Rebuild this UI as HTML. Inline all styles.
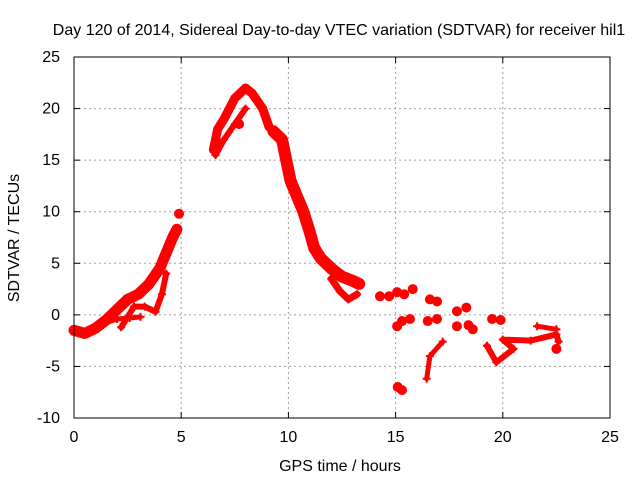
<!DOCTYPE html>
<html><head><meta charset="utf-8"><style>
body{margin:0;background:#fff;font-family:"Liberation Sans",sans-serif}
svg text{font-family:"Liberation Sans",sans-serif;font-size:16px;fill:#000}
</style></head><body>
<svg id="chart" width="640" height="480" xmlns="http://www.w3.org/2000/svg">
<rect width="640" height="480" fill="#fff"/>
<text x="339" y="35" text-anchor="middle">Day 120 of 2014, Sidereal Day-to-day VTEC variation (SDTVAR) for receiver hil1</text>
<g id="grid"></g>
<g id="ticks"></g>
<g id="marks"></g>
<rect x="74" y="57" width="536" height="361" fill="none" stroke="#000" stroke-width="1"/>
<text x="340" y="471" text-anchor="middle">GPS time / hours</text>
<text transform="translate(19,238) rotate(-90)" text-anchor="middle">SDTVAR / TECUs</text>
</svg>
<script>
const xTicks=[0,5,10,15,20,25];
const yTicks=[-10,-5,0,5,10,15,20,25];
const trackA=[[0,-1.5],[0.5,-1.8],[1,-1.3],[1.5,-0.5],[2,0.5],[2.5,1.5],[3,2],[3.5,3],[4,4.5],[4.3,6],[4.6,7.5],[4.8,8.3]];
const trackB=[[2.2,-1.2],[2.5,-0.2],[2.8,0.8],[3.3,0.8],[3.8,0.3],[4.1,2],[4.3,4]];
const trackB2=[[1.3,-0.9],[2,-0.4],[2.6,-0.3],[3.1,-0.2]];
const trackC=[[6.5,16],[6.7,18],[7,19],[7.5,21],[8,22],[8.3,21.5],[8.8,20],[9.1,18.2]];
const trackC2=[[6.6,15.5],[7,17],[7.5,18.5],[8,20]];
const trackD=[[9.3,17.8],[9.7,17],[9.9,15],[10.1,13],[10.4,11.5],[10.7,10],[11,8],[11.2,6.5],[11.5,5.5],[12,4.5],[12.5,3.7],[13,3.3],[13.3,3]];
const trackD2=[[12,3.5],[12.4,2.3],[12.8,1.5],[13.2,2]];
const trackE=[[19.26,-3],[19.7,-4.6],[20.5,-3.3],[20,-2.4],[21.3,-2.5],[22.5,-1.9],[22.6,-2.6]];
const trackE2=[[21.6,-1.1],[22.5,-1.4]];
const trackF=[[16.45,-6.2],[16.6,-4],[17.2,-2.6]];
const scatter=[[4.9,9.8],[7.7,18.5],[14.27,1.8],[14.7,1.8],[15.07,2.2],[15.8,2.5],[15.4,2],[16.93,1.3],[16.6,1.5],[17.86,0.35],[18.3,0.7],[15.07,-1.1],[15.3,-0.6],[15.67,-0.4],[16.93,-0.4],[16.5,-0.6],[17.86,-1.1],[18.6,-1.4],[18.4,-1],[19.5,-0.4],[19.9,-0.5],[15.1,-7],[15.3,-7.3],[22.5,-3.3]];
const tracks=[trackA,trackB,trackB2,trackC,trackC2,trackD,trackD2,trackE,trackE2,trackF];
const widths=[11,6,5,9,6,12,7,6,5,5];
const X0=74,X1=610,Y0=418,Y1=57;
function xs(t){return X0+(t-0)/25*(X1-X0);}
function ys(v){return Y0-(v+10)/35*(Y0-Y1);}
const NS="http://www.w3.org/2000/svg";
const grid=document.getElementById('grid'),ticks=document.getElementById('ticks'),marks=document.getElementById('marks');
function mk(tag,attrs,parent){const e=document.createElementNS(NS,tag);for(const k in attrs)e.setAttribute(k,attrs[k]);parent.appendChild(e);return e;}
xTicks.forEach(t=>{const x=xs(t);
 if(t>0&&t<25){const g=mk('line',{x1:x,x2:x,y1:Y1,y2:Y0,stroke:'#a0a0a0','stroke-dasharray':'2,3'},grid);
 
 }
 const l=mk('text',{x:x,y:Y0+24,'text-anchor':'middle'},ticks);l.textContent=t;
 
 
 mk('line',{x1:x,x2:x,y1:Y0,y2:Y0-6,stroke:'#000'},ticks);mk('line',{x1:x,x2:x,y1:Y1,y2:Y1+6,stroke:'#000'},ticks);});
yTicks.forEach(v=>{const y=ys(v);
 if(v>-10&&v<25){const g=mk('line',{x1:X0,x2:X1,y1:y,y2:y,stroke:'#a0a0a0','stroke-dasharray':'2,3'},grid);
 
 }
 const l=mk('text',{x:X0-14,y:y+5,'text-anchor':'end'},ticks);l.textContent=v;
 
 
 mk('line',{x1:X0,x2:X0+6,y1:y,y2:y,stroke:'#000'},ticks);mk('line',{x1:X1,x2:X1-6,y1:y,y2:y,stroke:'#000'},ticks);});
function plus(t,v){const x=xs(t),y=ys(v);
 const p=mk('path',{d:`M${x-4},${y}H${x+4}M${x},${y-4}V${y+4}`,stroke:'#f00','stroke-width':2},marks);
 
 }
tracks.forEach((tr,i)=>{
 const pl=mk('polyline',{points:tr.map(p=>xs(p[0])+','+ys(p[1])).join(' '),fill:'none',stroke:'#f00','stroke-width':widths[i],'stroke-linejoin':'round','stroke-linecap':'round'},marks);
 
 
 tr.forEach(p=>plus(p[0],p[1]));});
scatter.forEach(p=>{plus(p[0],p[1]);const c=mk('circle',{cx:xs(p[0]),cy:ys(p[1]),r:5,fill:'#f00'},marks);
 
 });
</script>
</body></html>
